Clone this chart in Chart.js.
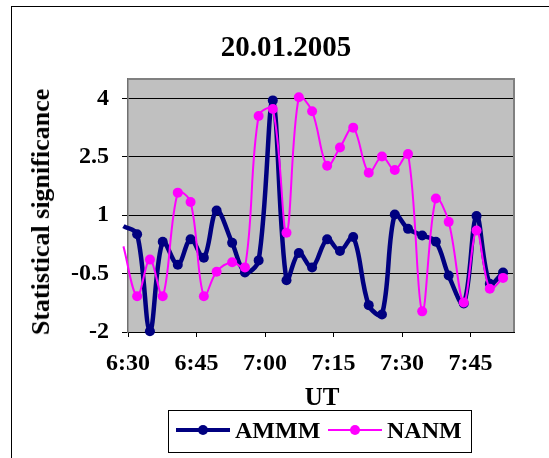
<!DOCTYPE html>
<html>
<head>
<meta charset="utf-8">
<script src="https://cdn.jsdelivr.net/npm/chart.js@4/dist/chart.umd.min.js"></script>
<style>
  html, body { margin: 0; padding: 0; background: #fff; }
  #wrap { position: relative; width: 549px; height: 458px; overflow: hidden;
          font-family: "Liberation Serif", "Times New Roman", serif; font-weight: bold; color: #000; }
  #frame { position: absolute; left: 11px; top: 6px; width: 620px; height: 520px;
           border-left: 1px solid #000; border-top: 1px solid #000; }
  #cv { position: absolute; left: 0; top: 0; }
  .t { position: absolute; white-space: nowrap; line-height: 1; }
  #title  { left: 286px; top: 46px; transform: translate(-50%, -50%); font-size: 29px; }
  #ytitle { left: 41px; top: 212px; transform: translate(-50%, -50%) rotate(-90deg); font-size: 26px; }
  #xtitle { left: 322px; top: 396px; transform: translate(-50%, -50%); font-size: 25px; }
  #legend { position: absolute; left: 168px; top: 410px; width: 304px; height: 43px;
            border: 1px solid #000; box-sizing: border-box; background: #fff; }
  #legend .ln { position: absolute; }
  #legend .dot { position: absolute; width: 10px; height: 10px; border-radius: 50%; }
  #legend .lab { position: absolute; top: 19px; transform: translateY(-50%); font-size: 24px; line-height: 1; }
</style>
</head>
<body>
<div id="wrap">
  <div id="frame"></div>
  <canvas id="cv" width="549" height="458"></canvas>
  <div class="t" id="title">20.01.2005</div>
  <div class="t" id="ytitle">Statistical significance</div>
  <div class="t" id="xtitle">UT</div>
  <div id="legend">
    <div class="ln" style="left:7px;top:17px;width:54px;height:4px;background:#000080;"></div>
    <div class="dot" style="left:29px;top:14px;background:#000080;"></div>
    <div class="lab" style="left:66px;">AMMM</div>
    <div class="ln" style="left:159px;top:18px;width:54px;height:2px;background:#FF00FF;"></div>
    <div class="dot" style="left:181px;top:14px;background:#FF00FF;"></div>
    <div class="lab" style="left:218px;">NANM</div>
  </div>
</div>
<script>
// Sample times, minutes after midnight (UT)
const times = [389.0, 392.0, 394.8, 397.6, 400.9, 403.7, 406.6, 409.4, 412.8, 415.6,
               418.6, 421.7, 424.7, 427.4, 430.3, 433.6, 436.4, 439.3, 442.7, 445.6,
               448.4, 451.3, 454.4, 457.4, 460.2, 463.5, 466.3, 469.2, 472.1];

// Statistical significance per station
const ammm = [0.72, 0.51, -1.98, 0.32, -0.27, 0.38, -0.09, 1.12, 0.29, -0.47,
              -0.16, 3.95, -0.67, 0.03, -0.34, 0.38, 0.08, 0.44, -1.31, -1.55,
              1.02, 0.65, 0.48, 0.32, -0.55, -1.27, 0.98, -0.76, -0.47];
const nanm = [0.20, -1.08, -0.14, -1.08, 1.58, 1.34, -1.08, -0.45, -0.21, -0.34,
              3.55, 3.73, 0.55, 4.03, 3.67, 2.27, 2.74, 3.25, 2.09, 2.51,
              2.16, 2.57, -1.47, 1.43, 0.83, -1.24, 0.61, -0.89, -0.61];

// Axis ticks
const xTicks = [390, 405, 420, 435, 450, 465];
const yTicks = [-2, -0.5, 1, 2.5, 4];

const fmtTime = m => Math.floor(m / 60) + ':' + String(Math.round(m % 60)).padStart(2, '0');
const serif = { family: '"Liberation Serif", "Times New Roman", serif', weight: 'bold', size: 24 };

// Grey plot area with a grey top/right frame
const plotFrame = {
  id: 'plotFrame',
  beforeDraw(c) {
    const a = c.chartArea, g = c.ctx;
    g.save();
    g.fillStyle = '#C0C0C0';
    g.fillRect(a.left, a.top, a.right - a.left, a.bottom - a.top);
    g.restore();
  },
  beforeDatasetsDraw(c) {
    const a = c.chartArea, g = c.ctx;
    g.save();
    g.strokeStyle = '#808080';
    g.lineWidth = 2;
    g.beginPath();
    g.moveTo(a.left, a.top);
    g.lineTo(a.right, a.top);
    g.lineTo(a.right, a.bottom);
    g.stroke();
    g.restore();
  }
};

const pts = vals => times.map((t, i) => ({ x: t, y: vals[i] }));
const radii = times.map((t, i) => (t < xTicks[0] ? 0 : 5));

new Chart(document.getElementById('cv'), {
  type: 'line',
  data: {
    datasets: [
      { label: 'AMMM', data: pts(ammm), borderColor: '#000080', backgroundColor: '#000080',
        borderWidth: 4.5, pointRadius: radii, pointBorderWidth: 0, pointHoverRadius: radii,
        tension: 0.35, clip: false, order: 2 },
      { label: 'NANM', data: pts(nanm), borderColor: '#FF00FF', backgroundColor: '#FF00FF',
        borderWidth: 2, pointRadius: radii, pointBorderWidth: 0, pointHoverRadius: radii,
        tension: 0.35, clip: false, order: 1 }
    ]
  },
  options: {
    responsive: false,
    animation: false,
    layout: { padding: { left: 0, top: 79, right: 35, bottom: 76 } },
    plugins: { legend: { display: false }, title: { display: false }, tooltip: { enabled: false } },
    scales: {
      x: {
        type: 'linear', min: 390, max: 474.5,
        afterBuildTicks: s => { s.ticks = xTicks.map(v => ({ value: v })); },
        afterFit: s => { s.height = 50; },
        grid: { drawOnChartArea: false, drawTicks: true, tickLength: 5, color: '#000' },
        border: { color: '#000', width: 1 },
        ticks: { font: serif, color: '#000', padding: 12, maxRotation: 0, autoSkip: false,
                 callback: v => fmtTime(v) }
      },
      y: {
        min: -2, max: 4.5,
        afterBuildTicks: s => { s.ticks = yTicks.map(v => ({ value: v })); },
        afterFit: s => { s.width = 128; },
        grid: { color: '#000', lineWidth: 1, tickLength: 6, tickColor: '#000' },
        border: { color: '#707070', width: 1.5 },
        ticks: { font: serif, color: '#000', padding: 13, callback: v => String(v) }
      }
    }
  },
  plugins: [plotFrame]
});
</script>
</body>
</html>
